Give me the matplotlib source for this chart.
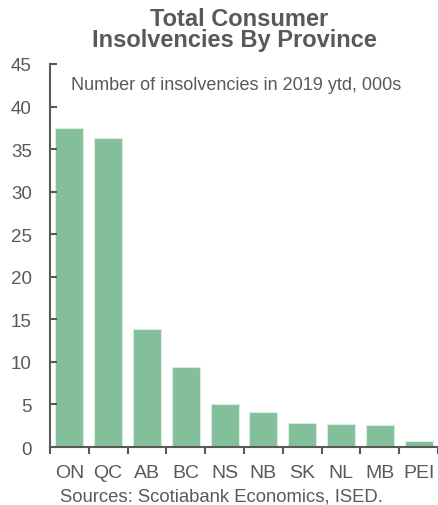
import matplotlib
matplotlib.use('Agg')
import matplotlib.pyplot as plt
from matplotlib.ticker import FixedLocator

plt.rcParams['font.family'] = ['Liberation Sans', 'DejaVu Sans']

provinces = ['ON', 'QC', 'AB', 'BC', 'NS', 'NB', 'SK', 'NL', 'MB', 'PEI']
insolvencies = [37.5, 36.3, 13.9, 9.4, 5.1, 4.1, 2.85, 2.75, 2.6, 0.65]

GREY = '#595959'
GREEN = '#84bf9c'

fig = plt.figure(figsize=(4.38, 5.06), dpi=100)
ax = fig.add_axes([0.114, 0.1146, 0.886, 0.757])

x = range(len(provinces))
ax.bar(x, insolvencies, width=0.72, color=GREEN, edgecolor='#d8ece0', linewidth=0.8)

ax.set_xlim(-0.5, len(provinces) - 0.5)
ax.set_ylim(0, 45)
ax.set_yticks(range(0, 46, 5))
ax.set_xticks(list(x))
ax.set_xticklabels(provinces)
ax.xaxis.set_minor_locator(FixedLocator([i - 0.5 for i in range(len(provinces) + 1)]))

for s in ['top', 'right']:
    ax.spines[s].set_visible(False)
for s in ['left', 'bottom']:
    ax.spines[s].set_color(GREY)
    ax.spines[s].set_linewidth(1.5)

ax.tick_params(axis='y', direction='in', length=5, width=1.5, color=GREY,
               labelcolor=GREY, labelsize=13.5, pad=13)
ax.tick_params(axis='x', which='major', length=0, labelcolor=GREY, labelsize=14, pad=12)
ax.tick_params(axis='x', which='minor', direction='out', length=5, width=1.5, color=GREY)

# two-line bold title
fig.text(0.545, 1 - 19 / 506, 'Total Consumer', ha='center', va='center',
         fontsize=17, fontweight='bold', color=GREY)
fig.text(0.535, 1 - 41 / 506, 'Insolvencies By Province', ha='center', va='center',
         fontsize=17, fontweight='bold', color=GREY)
fig.text(236 / 438, 1 - 85 / 506, 'Number of insolvencies in 2019 ytd, 000s',
         ha='center', va='center', fontsize=13, color=GREY)
fig.text(221 / 438, 1 - 497 / 506, 'Sources: Scotiabank Economics, ISED.', ha='center',
         va='center', fontsize=13.3, color=GREY)

fig.savefig('out.png', dpi=100)
